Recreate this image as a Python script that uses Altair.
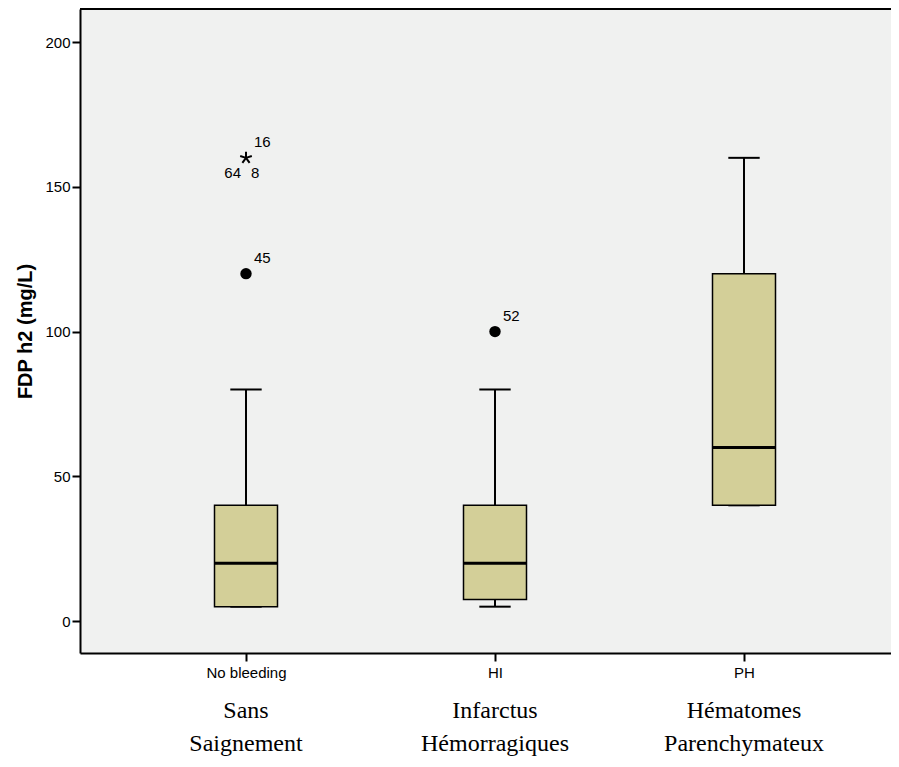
import json
import altair as alt
import pandas as pd

# ---- data ----
groups = ["No bleeding", "HI", "PH"]
group_pos = [1, 2, 3]
whisker_low = [5, 5, 40]
q1 = [5, 7.5, 40]
median = [20, 20, 60]
q3 = [40, 40, 120]
whisker_high = [80, 80, 160]

outlier_pos = [1, 2]
outlier_value = [120, 100]
extreme_pos = [1]
extreme_value = [160]

label_pos = [1, 1, 1, 1, 2]
label_value = [160, 160, 160, 120, 100]
label_text = ["16", "64", "8", "45", "52"]
label_side = ["ne", "sw", "se", "ne", "ne"]

caption_line1 = ["Sans", "Infarctus", "Hématomes"]
caption_line2 = ["Saignement", "Hémorragiques", "Parenchymateux"]

y_ticks = [0, 50, 100, 150, 200]

# ---- layout ----
W, H = 811, 644
X_MIN, X_MAX = 1 - 166 / 249, 1 + (W - 166) / 249
Y_MIN, Y_MAX = -11.0, 211.4
BOX_HALF = 0.1265
CAP_HALF = 0.063
FILL = "#d3cf98"
SANS = "Liberation Sans"
SERIF = "Liberation Serif"

box_df = pd.DataFrame({
    "group": groups, "pos": group_pos, "wlo": whisker_low, "q1": q1,
    "med": median, "q3": q3, "whi": whisker_high,
})
out_df = pd.DataFrame({"pos": outlier_pos, "value": outlier_value})
ext_df = pd.DataFrame({"pos": extreme_pos, "value": extreme_value})
lab_df = pd.DataFrame({"pos": label_pos, "value": label_value,
                       "text": label_text, "side": label_side})
cap_df = pd.DataFrame({"pos": group_pos, "l1": caption_line1, "l2": caption_line2})

xscale = alt.Scale(domain=[X_MIN, X_MAX], nice=False, zero=False)
yscale = alt.Scale(domain=[Y_MIN, Y_MAX], nice=False, zero=False)

xaxis = alt.Axis(
    values=group_pos, labelExpr=f"{json.dumps(groups)}[datum.value - 1]",
    title=None, grid=False, domainColor="black", domainWidth=2,
    tickColor="black", tickWidth=2, tickSize=8, labelFont=SANS,
    labelFontSize=15, labelColor="black", labelPadding=4, labelFlush=False,
)
yaxis = alt.Axis(
    values=y_ticks, title="FDP h2 (mg/L)", grid=False, domainColor="black",
    domainWidth=2, tickColor="black", tickWidth=2, tickSize=8,
    labelFont=SANS, labelFontSize=15, labelColor="black", labelPadding=2,
    titleFont=SANS, titleFontSize=20, titleFontWeight="bold",
    titleColor="black", titleX=-49, titleBaseline="alphabetic",
)


def X(field):
    return alt.X(field, type="quantitative", scale=xscale, axis=xaxis)


def Y(field):
    return alt.Y(field, type="quantitative", scale=yscale, axis=yaxis)


box_base = alt.Chart(box_df).transform_calculate(
    blo=f"datum.pos - {BOX_HALF}", bhi=f"datum.pos + {BOX_HALF}",
    clo=f"datum.pos - {CAP_HALF}", chi=f"datum.pos + {CAP_HALF}",
)

top_border = alt.Chart(box_df).mark_rule(color="black", strokeWidth=2).encode(
    x=alt.value(0), x2=alt.value(W), y=alt.value(0))

whisk_up = box_base.mark_rule(color="black", strokeWidth=2).encode(
    x=X("pos"), y=Y("q3"), y2="whi")
whisk_dn = box_base.mark_rule(color="black", strokeWidth=2).encode(
    x=X("pos"), y=Y("wlo"), y2="q1")
cap_up = box_base.mark_rule(color="black", strokeWidth=2).encode(
    x=X("clo"), x2="chi", y=Y("whi"))
cap_dn = box_base.mark_rule(color="black", strokeWidth=2).encode(
    x=X("clo"), x2="chi", y=Y("wlo"))
boxes = box_base.mark_rect(fill=FILL, stroke="black", strokeWidth=1.5).encode(
    x=X("blo"), x2="bhi", y=Y("q1"), y2="q3")
medians = box_base.mark_rule(color="black", strokeWidth=3).encode(
    x=X("blo"), x2="bhi", y=Y("med"))

outliers = alt.Chart(out_df).mark_point(
    shape="circle", filled=True, color="black", size=130, opacity=1).encode(
    x=X("pos"), y=Y("value"))

star_path = ("M0,-1L0,0M0,0L0.95,-0.31M0,0L0.59,0.81"
             "M0,0L-0.59,0.81M0,0L-0.95,-0.31")
extremes = alt.Chart(ext_df).mark_point(
    shape=star_path, filled=False, stroke="black", strokeWidth=2,
    size=150, opacity=1).encode(x=X("pos"), y=Y("value"))

lab_base = alt.Chart(lab_df)
lab_ne = lab_base.transform_filter("datum.side == 'ne'").mark_text(
    align="left", baseline="middle", dx=8, dy=-16, font=SANS, fontSize=15,
    color="black").encode(x=X("pos"), y=Y("value"), text="text")
lab_sw = lab_base.transform_filter("datum.side == 'sw'").mark_text(
    align="right", baseline="middle", dx=-5, dy=15, font=SANS, fontSize=15,
    color="black").encode(x=X("pos"), y=Y("value"), text="text")
lab_se = lab_base.transform_filter("datum.side == 'se'").mark_text(
    align="left", baseline="middle", dx=5, dy=15, font=SANS, fontSize=15,
    color="black").encode(x=X("pos"), y=Y("value"), text="text")

cap1 = alt.Chart(cap_df).mark_text(
    align="center", baseline="alphabetic", font=SERIF, fontSize=24,
    color="black").encode(x=X("pos"), y=alt.value(709), text="l1")
cap2 = alt.Chart(cap_df).mark_text(
    align="center", baseline="alphabetic", font=SERIF, fontSize=24,
    color="black").encode(x=X("pos"), y=alt.value(742), text="l2")

chart = alt.layer(
    top_border, whisk_up, whisk_dn, cap_up, cap_dn, boxes, medians, outliers,
    extremes, lab_ne, lab_sw, lab_se, cap1, cap2,
).properties(
    width=W, height=H,
    autosize=alt.AutoSizeParams(type="none"),
    padding={"left": 72, "top": 1, "right": 0, "bottom": 104},
    background="white",
).configure_view(
    stroke=None, fill="#f0f1f0",
)

chart.save("out.html", embed_options={"renderer": "svg", "actions": False})
